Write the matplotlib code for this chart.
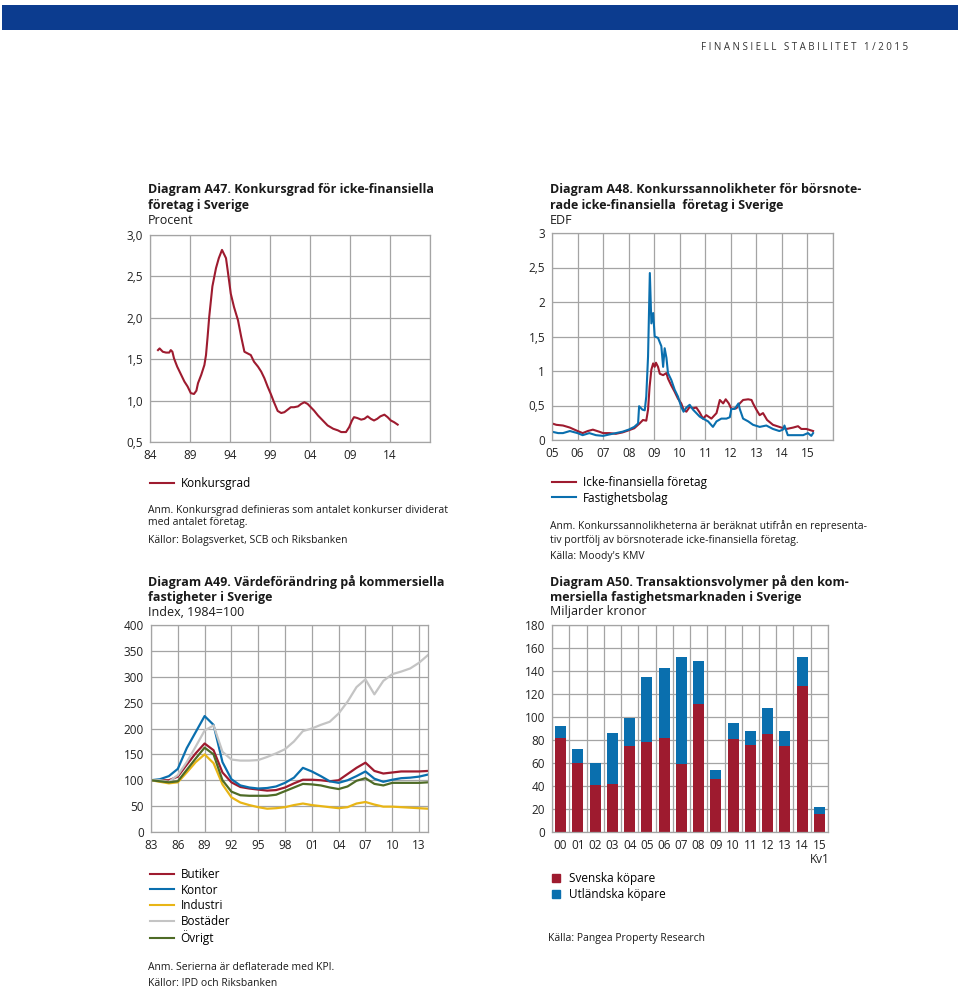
import numpy as np
import matplotlib
matplotlib.use("Agg")
import matplotlib.pyplot as plt
from matplotlib.ticker import FuncFormatter, FixedLocator
from matplotlib.lines import Line2D
from matplotlib.patches import Patch

plt.rcParams['font.family'] = ['Open Sans', 'DejaVu Sans']

RED = '#9e1b2f'
BLUE = '#0a6fae'
YELLOW = '#e8b516'
GREY = '#c4c4c4'
GREEN = '#4e6b26'
GRID = '#a4a4a4'
TXT = '#1a1a1a'

# Diagram A47 - Konkursgrad (procent)
konk_year = [1985.0, 1985.2, 1985.6, 1986.0, 1986.4, 1986.6, 1986.8, 1987.0, 1987.4, 1987.9,
             1988.3, 1988.7, 1989.1, 1989.5, 1989.8, 1990.0, 1990.4, 1990.8, 1991.0, 1991.2,
             1991.4, 1991.8, 1992.25, 1992.6, 1993.0, 1993.3, 1993.5, 1993.7, 1994.1, 1994.5,
             1995.0, 1995.4, 1995.8, 1996.2, 1996.6, 1997.0, 1997.5, 1997.9, 1998.3, 1998.7,
             1999.1, 1999.5, 1999.96, 2000.4, 2000.8, 2001.2, 2001.6, 2002.0, 2002.5, 2002.9,
             2003.3, 2003.7, 2004.1, 2004.5, 2005.0, 2005.4, 2005.8, 2006.2, 2006.9, 2007.5,
             2007.9, 2008.5, 2008.9, 2009.25, 2009.5, 2009.9, 2010.4, 2010.8, 2011.2, 2011.6,
             2012.0, 2012.4, 2012.8, 2013.3, 2013.7, 2014.1, 2014.5, 2014.96]
konk_val = [1.61, 1.63, 1.59, 1.58, 1.58, 1.61, 1.59, 1.51, 1.41, 1.31,
            1.23, 1.17, 1.09, 1.08, 1.12, 1.21, 1.31, 1.43, 1.55, 1.77,
            2.01, 2.38, 2.60, 2.72, 2.82, 2.76, 2.72, 2.58, 2.29, 2.13,
            1.97, 1.77, 1.59, 1.57, 1.55, 1.47, 1.41, 1.35, 1.27, 1.17,
            1.08, 0.98, 0.875, 0.85, 0.86, 0.89, 0.92, 0.92, 0.93, 0.96,
            0.98, 0.96, 0.92, 0.88, 0.82, 0.78, 0.74, 0.70, 0.66, 0.64,
            0.62, 0.62, 0.68, 0.76, 0.80, 0.79, 0.77, 0.78, 0.81, 0.78,
            0.76, 0.78, 0.81, 0.83, 0.80, 0.76, 0.74, 0.71]

# Diagram A48 - EDF
icke_year = [2005.0, 2005.17, 2005.43, 2005.7, 2006.0, 2006.2, 2006.4, 2006.6, 2006.85, 2007.0,
             2007.24, 2007.5, 2007.76, 2008.0, 2008.22, 2008.43, 2008.56, 2008.69, 2008.76, 2008.82,
             2008.89, 2008.96, 2009.02, 2009.07, 2009.15, 2009.22, 2009.35, 2009.48, 2009.54, 2009.67,
             2009.8, 2009.93, 2010.06, 2010.15, 2010.26, 2010.39, 2010.52, 2010.65, 2010.78, 2010.91,
             2011.04, 2011.24, 2011.44, 2011.57, 2011.7, 2011.8, 2011.92, 2012.02, 2012.22, 2012.35,
             2012.48, 2012.68, 2012.81, 2012.87, 2013.0, 2013.13, 2013.26, 2013.42, 2013.65, 2013.98,
             2014.18, 2014.44, 2014.63, 2014.76, 2014.96, 2015.22]
icke_val = [0.24, 0.22, 0.21, 0.18, 0.13, 0.10, 0.13, 0.15, 0.12, 0.10,
            0.10, 0.09, 0.11, 0.14, 0.17, 0.24, 0.29, 0.28, 0.44, 0.77,
            1.02, 1.11, 1.06, 1.12, 1.06, 0.96, 0.94, 0.97, 0.89, 0.79,
            0.70, 0.60, 0.53, 0.44, 0.41, 0.48, 0.46, 0.47, 0.40, 0.31,
            0.36, 0.31, 0.39, 0.58, 0.53, 0.59, 0.53, 0.45, 0.46, 0.53,
            0.58, 0.59, 0.58, 0.53, 0.44, 0.36, 0.39, 0.29, 0.22, 0.18,
            0.16, 0.18, 0.20, 0.16, 0.16, 0.13]
fast_year = [2005.0, 2005.24, 2005.43, 2005.7, 2006.0, 2006.2, 2006.46, 2006.72, 2007.0, 2007.24,
             2007.5, 2007.76, 2008.0, 2008.22, 2008.37, 2008.41, 2008.54, 2008.63, 2008.69, 2008.76,
             2008.83, 2008.89, 2008.96, 2009.02, 2009.15, 2009.28, 2009.35, 2009.41, 2009.48, 2009.54,
             2009.67, 2009.8, 2009.93, 2010.06, 2010.15, 2010.26, 2010.39, 2010.52, 2010.65, 2010.78,
             2010.91, 2011.11, 2011.3, 2011.44, 2011.63, 2011.83, 2011.96, 2012.02, 2012.15, 2012.3,
             2012.35, 2012.48, 2012.68, 2012.87, 2013.13, 2013.39, 2013.65, 2013.9, 2014.04, 2014.1,
             2014.23, 2014.56, 2014.83, 2015.02, 2015.15, 2015.22]
fast_val = [0.12, 0.10, 0.10, 0.13, 0.10, 0.07, 0.10, 0.07, 0.06, 0.08,
            0.10, 0.12, 0.15, 0.19, 0.24, 0.49, 0.44, 0.43, 0.63, 1.21,
            2.42, 1.69, 1.84, 1.50, 1.48, 1.36, 1.06, 1.33, 1.19, 0.97,
            0.87, 0.73, 0.63, 0.48, 0.41, 0.47, 0.51, 0.44, 0.39, 0.34,
            0.31, 0.27, 0.19, 0.27, 0.31, 0.31, 0.33, 0.45, 0.45, 0.53,
            0.45, 0.31, 0.27, 0.22, 0.19, 0.21, 0.16, 0.13, 0.15, 0.21,
            0.07, 0.07, 0.07, 0.10, 0.06, 0.10]

# Diagram A49 - Index, 1984=100
fast_years = list(range(1983, 2015))
butiker = [100, 100, 100, 107, 130, 152, 171, 158, 115, 96, 87, 84, 82, 80, 81, 86,
           94, 101, 101, 100, 98, 100, 112, 124, 134, 118, 113, 115, 117, 117, 117, 118]
kontor = [100, 102, 108, 122, 162, 193, 224, 207, 135, 102, 90, 86, 84, 85, 88, 95,
          105, 124, 117, 108, 98, 95, 100, 108, 117, 103, 97, 101, 104, 105, 107, 111]
industri = [100, 97, 94, 96, 115, 135, 150, 133, 92, 67, 57, 52, 48, 45, 46, 48,
            52, 55, 52, 50, 48, 46, 48, 55, 58, 53, 49, 49, 48, 47, 46, 45]
bostader = [100, 100, 97, 110, 135, 165, 196, 206, 155, 140, 138, 138, 139, 145, 152, 160,
            175, 195, 200, 207, 213, 229, 252, 280, 295, 266, 292, 305, 310, 316, 327, 342]
ovrigt = [100, 98, 96, 98, 120, 142, 163, 150, 100, 78, 71, 70, 70, 70, 72, 79,
          86, 93, 92, 90, 86, 83, 88, 99, 104, 93, 90, 95, 95, 95, 95, 96]

# Diagram A50 - Miljarder kronor
bar_labels = ['00', '01', '02', '03', '04', '05', '06', '07', '08', '09',
              '10', '11', '12', '13', '14', '15\nKv1']
svenska = [82, 60, 41, 42, 75, 78, 82, 59, 111, 46, 81, 76, 85, 75, 127, 16]
totalt = [92, 72, 60, 86, 99, 135, 143, 152, 149, 54, 95, 88, 108, 88, 152, 22]
utlandska = [t - s for t, s in zip(totalt, svenska)]

W, H = 960, 990
fig = plt.figure(figsize=(W / 100, H / 100), dpi=100)


def px_axes(x0, y0, x1, y1):
    return fig.add_axes([x0 / W, 1 - y1 / H, (x1 - x0) / W, (y1 - y0) / H])


def ftext(x, y, s, **kw):
    kw.setdefault('color', TXT)
    kw.setdefault('va', 'center')
    kw.setdefault('fontsize', 8.5)
    fig.text(x / W, 1 - y / H, s, **kw)


def style(ax):
    for sp in ax.spines.values():
        sp.set_color(GRID)
        sp.set_linewidth(0.9)
    ax.grid(True, which='major', color=GRID, linewidth=0.9)
    ax.set_axisbelow(True)
    ax.tick_params(length=0, labelsize=8.5, colors='#222222', pad=5)


def comma(v, pos=None):
    return ('%g' % v).replace('.', ',')


def line_legend(x, y, colors, labels):
    fig.legend([Line2D([], [], color=c, lw=1.5) for c in colors], labels,
               loc='upper left', bbox_to_anchor=(x / W, 1 - y / H), frameon=False,
               fontsize=8.5, handlelength=2.0, handletextpad=0.6, labelspacing=0.22,
               borderaxespad=0, borderpad=0)


# header band
band = fig.add_axes([2 / W, 1 - 30 / H, 956 / W, 25 / H])
band.set_facecolor('#0c3c8f')
band.set_xticks([])
band.set_yticks([])
for sp in band.spines.values():
    sp.set_visible(False)
ftext(908, 47, 'F I N A N S I E L L   S T A B I L I T E T   1 / 2 0 1 5', ha='right',
      fontsize=7, color='#333333')

# ---- A47
ax1 = px_axes(150, 235, 430, 442)
ax1.plot(konk_year, konk_val, color=RED, lw=1.5)
ax1.set_xlim(1984, 2019)
ax1.set_ylim(0.5, 3.0)
ax1.xaxis.set_major_locator(FixedLocator(list(range(1984, 2020, 5))))
ax1.set_xticklabels(['84', '89', '94', '99', '04', '09', '14', ''])
ax1.set_yticks([0.5, 1.0, 1.5, 2.0, 2.5, 3.0])
ax1.yaxis.set_major_formatter(FuncFormatter(lambda v, p: ('%.1f' % v).replace('.', ',')))
style(ax1)

ftext(148, 190, 'Diagram A47. Konkursgrad för icke-finansiella', fontweight='bold', fontsize=9)
ftext(148, 205, 'företag i Sverige', fontweight='bold', fontsize=9)
ftext(148, 220, 'Procent', fontsize=9)

line_legend(150, 477, [RED], ['Konkursgrad'])
ftext(148, 510, 'Anm. Konkursgrad definieras som antalet konkurser dividerat', fontsize=7.5)
ftext(148, 522, 'med antalet företag.', fontsize=7.5)
ftext(148, 540, 'Källor: Bolagsverket, SCB och Riksbanken', fontsize=7.5)

# ---- A48
ax2 = px_axes(552, 233, 833, 440)
ax2.plot(icke_year, icke_val, color=RED, lw=1.5)
ax2.plot(fast_year, fast_val, color=BLUE, lw=1.5)
ax2.set_xlim(2005, 2016)
ax2.set_ylim(0, 3)
ax2.xaxis.set_major_locator(FixedLocator(list(range(2005, 2017))))
ax2.set_xticklabels(['%02d' % (y % 100) for y in range(2005, 2016)] + [''])
ax2.set_yticks([0, 0.5, 1, 1.5, 2, 2.5, 3])
ax2.yaxis.set_major_formatter(FuncFormatter(comma))
style(ax2)

ftext(550, 190, 'Diagram A48. Konkurssannolikheter för börsnote-', fontweight='bold', fontsize=9)
ftext(550, 205, 'rade icke-finansiella  företag i Sverige', fontweight='bold', fontsize=9)
ftext(550, 220, 'EDF', fontsize=9)

line_legend(552, 476, [RED, BLUE], ['Icke-finansiella företag', 'Fastighetsbolag'])
ftext(550, 526, 'Anm. Konkurssannolikheterna är beräknat utifrån en representa-', fontsize=7.5)
ftext(550, 540, 'tiv portfölj av börsnoterade icke-finansiella företag.', fontsize=7.5)
ftext(550, 556, "Källa: Moody's KMV", fontsize=7.5)

# ---- A49
ax3 = px_axes(151, 625, 428, 832)
ax3.plot(fast_years, butiker, color=RED, lw=1.6)
ax3.plot(fast_years, kontor, color=BLUE, lw=1.6)
ax3.plot(fast_years, industri, color=YELLOW, lw=1.6)
ax3.plot(fast_years, bostader, color=GREY, lw=1.6)
ax3.plot(fast_years, ovrigt, color=GREEN, lw=1.6)
ax3.set_xlim(1983, 2014)
ax3.set_ylim(0, 400)
ax3.xaxis.set_major_locator(FixedLocator(list(range(1983, 2014, 3))))
ax3.set_xticklabels(['%02d' % (y % 100) for y in range(1983, 2014, 3)])
ax3.set_yticks(range(0, 401, 50))
style(ax3)

ftext(148, 582, 'Diagram A49. Värdeförändring på kommersiella', fontweight='bold', fontsize=9)
ftext(148, 597, 'fastigheter i Sverige', fontweight='bold', fontsize=9)
ftext(148, 612, 'Index, 1984=100', fontsize=9)

line_legend(150, 868, [RED, BLUE, YELLOW, GREY, GREEN],
            ['Butiker', 'Kontor', 'Industri', 'Bostäder', 'Övrigt'])
ftext(148, 967, 'Anm. Serierna är deflaterade med KPI.', fontsize=7.5)
ftext(148, 983, 'Källor: IPD och Riksbanken', fontsize=7.5)

# ---- A50
ax4 = px_axes(552, 625, 828, 832)
x = np.arange(len(bar_labels))
ax4.bar(x, svenska, width=0.64, color=RED, label='Svenska köpare')
ax4.bar(x, utlandska, width=0.64, bottom=svenska, color=BLUE, label='Utländska köpare')
ax4.set_xlim(-0.5, len(bar_labels) - 0.5)
ax4.set_ylim(0, 180)
ax4.set_xticks(x)
ax4.set_xticklabels(bar_labels, linespacing=1.1)
ax4.set_xticks(np.arange(-0.5, len(bar_labels), 1), minor=True)
ax4.set_yticks(range(0, 181, 20))
style(ax4)
ax4.grid(False, axis='x')
ax4.grid(True, axis='x', which='minor', color=GRID, linewidth=0.9)
ax4.tick_params(which='minor', length=0)

ftext(550, 582, 'Diagram A50. Transaktionsvolymer på den kom-', fontweight='bold', fontsize=9)
ftext(550, 597, 'mersiella fastighetsmarknaden i Sverige', fontweight='bold', fontsize=9)
ftext(550, 612, 'Miljarder kronor', fontsize=9)

h, l = ax4.get_legend_handles_labels()
fig.legend([Patch(color=RED), Patch(color=BLUE)], l,
           loc='upper left', bbox_to_anchor=(552 / W, 1 - 872 / H), frameon=False,
           fontsize=8.5, handlelength=0.7, handleheight=0.7, handletextpad=0.7,
           labelspacing=0.25, borderaxespad=0, borderpad=0)
ftext(548, 939, 'Källa: Pangea Property Research', fontsize=7.5)

fig.savefig('out.png', dpi=100)
